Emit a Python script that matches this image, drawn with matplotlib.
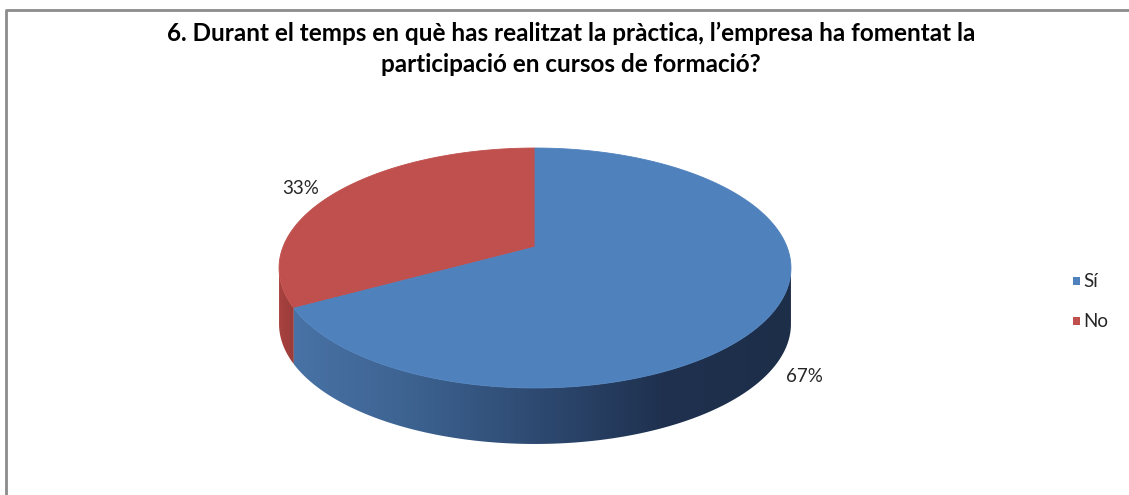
import numpy as np
import matplotlib.pyplot as plt
from matplotlib.patches import Polygon, Rectangle
from matplotlib.colors import LinearSegmentedColormap

title_lines = ['6. Durant el temps en què has realitzat la pràctica, l’empresa ha fomentat la',
               'participació en cursos de formació?']
labels = ['Sí', 'No']
values = [67, 33]
top_colors = ['#4f81bd', '#c0504d']
side_colors = [['#4a74a8', '#3d6391', '#2e4a72', '#1f314f', '#1d2e49'],
               ['#a8423f', '#9a3c3a']]

W, H = 1129, 495
fig = plt.figure(figsize=(W / 100, H / 100), dpi=100)
ax = fig.add_axes([0, 0, 1, 1])
ax.set_xlim(0, W)
ax.set_ylim(H, 0)
ax.axis('off')

# chart frame (goes off the image at right and bottom)
ax.plot([6, 6, W + 5], [H + 5, 10, 10], color='#8c8c8c', lw=2, solid_capstyle='butt')

# perspective disc: centre of slices, depth scale, perspective factor
cx, cy = 535, 247
p = 0.175
q = 116.3
r = 252
depth = 56


def proj(theta_deg, dy=0):
    t = np.radians(theta_deg)
    u, v = np.cos(t), np.sin(t)
    k = 1 + p * v
    return np.column_stack([cx + r * u / k, cy - q * v / k + dy])


# slice angles, counterclockwise starting from the top; No first then Sí
fracs = np.array(values, dtype=float) / sum(values)
start_no = 90
end_no = start_no + fracs[1] * 360
slices = {1: (start_no, end_no), 0: (end_no, 90 + 360)}

# visible front rim between the silhouette points
sil_l = 180 + np.degrees(np.arcsin(p))
sil_r = 360 - np.degrees(np.arcsin(p))

for i, (a0, a1) in slices.items():
    lo, hi = max(a0, sil_l), min(a1, sil_r)
    if hi <= lo:
        continue
    th = np.linspace(lo, hi, 200)
    upper = proj(th)
    lower = proj(th[::-1], depth)
    side = np.vstack([upper, lower])
    poly = Polygon(side, closed=True, facecolor='none', edgecolor='none')
    ax.add_patch(poly)
    x0, x1 = side[:, 0].min(), side[:, 0].max()
    y0, y1 = side[:, 1].min(), side[:, 1].max()
    if i == 0:
        cmap = LinearSegmentedColormap.from_list('side', side_colors[0])
        # gradient runs across the whole front of the pie
        gx0, gx1 = proj(sil_l)[0, 0], proj(sil_r)[0, 0]
        grad = cmap(np.linspace(0, 1, 400))[None, :, :]
        im = ax.imshow(grad, extent=[gx0, gx1, y1, y0], aspect='auto', zorder=1)
    else:
        cmap = LinearSegmentedColormap.from_list('side_r', side_colors[1])
        grad = cmap(np.linspace(0, 1, 50))[None, :, :]
        im = ax.imshow(grad, extent=[x0, x1, y1, y0], aspect='auto', zorder=1)
    im.set_clip_path(poly)

for i, (a0, a1) in slices.items():
    th = np.linspace(a0, a1, 400)
    pts = np.vstack([[cx, cy], proj(th)])
    ax.add_patch(Polygon(pts, closed=True, facecolor=top_colors[i],
                         edgecolor=top_colors[i], lw=0.6, zorder=2))

ax.set_xlim(0, W)
ax.set_ylim(H, 0)

lab_font = dict(family=['Lato', 'DejaVu Sans'], size=13.5, color='#262626')
ax.text(301, 189, f'{values[1]}%', ha='center', va='center', **lab_font)
ax.text(804, 376, f'{values[0]}%', ha='center', va='center', **lab_font)

for k, line in enumerate(title_lines):
    ax.text(571, 33 + 31 * k, line, ha='center', va='center', fontsize=17.5,
            fontweight='bold', family=['Lato', 'DejaVu Sans'], color='black')

for j, (lab, col) in enumerate(zip(labels, top_colors)):
    yy = 281 + 40 * j
    ax.add_patch(Rectangle((1072.5, yy - 4), 7.5, 7.5, facecolor=col, edgecolor='none'))
    ax.text(1083, yy + 0.5, lab, ha='left', va='center', **lab_font)

fig.savefig('out.png', dpi=100)
